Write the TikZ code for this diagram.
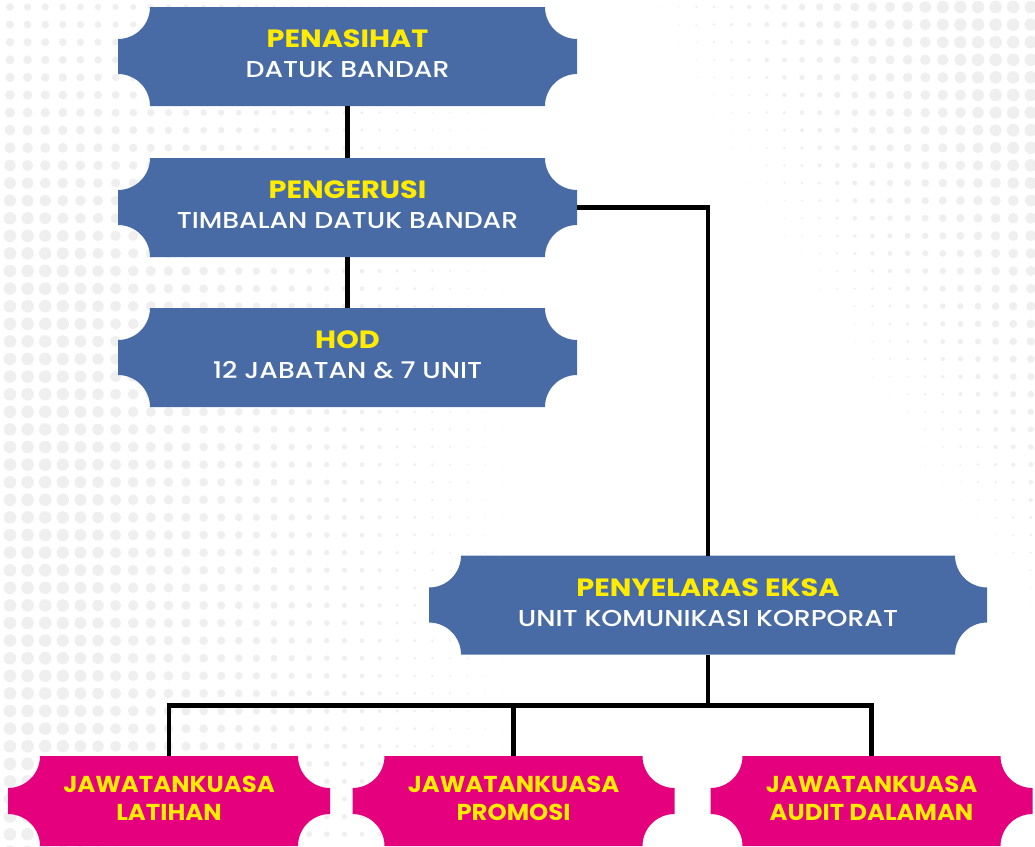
\documentclass[tikz,border=0pt]{standalone}
\usepackage{fontspec}
\setmainfont{Poppins}
\newfontfamily\titlefont{Poppins}[FakeStretch=1.15]
\newfontfamily\subfont{Poppins Medium}[FakeStretch=1.16]
\newfontfamily\pinkfont{Poppins}[FakeStretch=1.06]
\usepackage{tikz}
\usetikzlibrary{positioning, calc, backgrounds}
\definecolor{orgblue}{HTML}{486BA6}
\definecolor{orgpink}{HTML}{E5007E}
\definecolor{orgyellow}{HTML}{FFEC00}
\definecolor{dotgray}{HTML}{EFEFEF}
\pgfdeclarelayer{dots}
\pgfsetlayers{dots,background,main}
\newcommand{\tr}{32}
\newcommand{\boxtitle}[1]{{\titlefont\fontsize{25}{30}\selectfont\bfseries\textcolor{orgyellow}{#1}}}
\newcommand{\ticketfill}[2]{%
  \fill[#2] ($(#1.north west)+(\tr,0)$) -- ($(#1.north east)+(-\tr,0)$)
    arc[start angle=180, end angle=270, radius=\tr] -- ($(#1.south east)+(0,\tr)$)
    arc[start angle=90, end angle=180, radius=\tr] -- ($(#1.south west)+(\tr,0)$)
    arc[start angle=0, end angle=90, radius=\tr] -- ($(#1.north west)+(0,-\tr)$)
    arc[start angle=270, end angle=360, radius=\tr] -- cycle;}

\begin{document}
\begin{tikzpicture}[x=1pt, y=1pt,
    ticket/.style={inner sep=0pt, outer sep=0pt, align=center, text=white, text depth=5pt, font=\subfont\fontsize{23}{30}\selectfont},
    bluebox/.style={ticket, minimum width=459pt, minimum height=99pt},
    pinkbox/.style={ticket, minimum width=322pt, minimum height=90pt, text=orgyellow, font=\pinkfont\fontsize{23}{28}\selectfont\bfseries},
    link/.style={line width=4.5pt}]
    \useasboundingbox (0,0) rectangle (1035,-846);

    \node[bluebox] (penasihat) at (347.5,-56.5) {\boxtitle{PENASIHAT}\\DATUK BANDAR};
    \node[bluebox, below=52pt of penasihat] (pengerusi) {\boxtitle{PENGERUSI}\\TIMBALAN DATUK BANDAR};
    \node[bluebox, below=51pt of pengerusi] (hod) {\boxtitle{HOD}\\12 JABATAN \& 7 UNIT};
    \node[bluebox, minimum width=558pt] (penyelaras) at (708,-605) {\boxtitle{PENYELARAS EKSA}\\UNIT KOMUNIKASI KORPORAT};
    \node[pinkbox] (latihan) at (169,-801) {JAWATANKUASA\\LATIHAN};
    \node[pinkbox] (promosi) at (513.5,-801) {JAWATANKUASA\\PROMOSI};
    \node[pinkbox] (audit) at (871.5,-801) {JAWATANKUASA\\AUDIT DALAMAN};

    \begin{pgfonlayer}{background}
        \foreach \n in {penasihat, pengerusi, hod, penyelaras} {\ticketfill{\n}{orgblue}}
        \foreach \n in {latihan, promosi, audit} {\ticketfill{\n}{orgpink}}
    \end{pgfonlayer}

    \begin{pgfonlayer}{dots}
        \foreach \i in {0,...,58} {
            \foreach \j in {0,...,48} {
                \pgfmathsetmacro\px{10+17.6*\i}
                \pgfmathsetmacro\py{7+17.6*\j}
                \pgfmathsetmacro\rl{min(6.3, 0.013*(540-\px)*min(1, 0.55+\py/600))}
                \pgfmathsetmacro\rr{min(6.3, 0.02*(\px-630-0.5*\py-(0.0002*\py)*\py))}
                \pgfmathsetmacro\rd{max(\rl,\rr)}
                \ifdim\rd pt>0.4pt \fill[dotgray] (\px,-\py) circle[radius=\rd]; \fi
            }
        }
    \end{pgfonlayer}

    \draw[link] (penasihat) -- (pengerusi);
    \draw[link] (pengerusi) -- (hod);
    \draw[link] (pengerusi.east) -| (penyelaras.north);
    \draw[link] (penyelaras.south) -- ++(0,-51) coordinate (split);
    \draw[link] (latihan.north) |- (audit.north |- split) -- (audit.north);
    \draw[link] (promosi.north) -- (promosi.north |- split);
\end{tikzpicture}
\end{document}
